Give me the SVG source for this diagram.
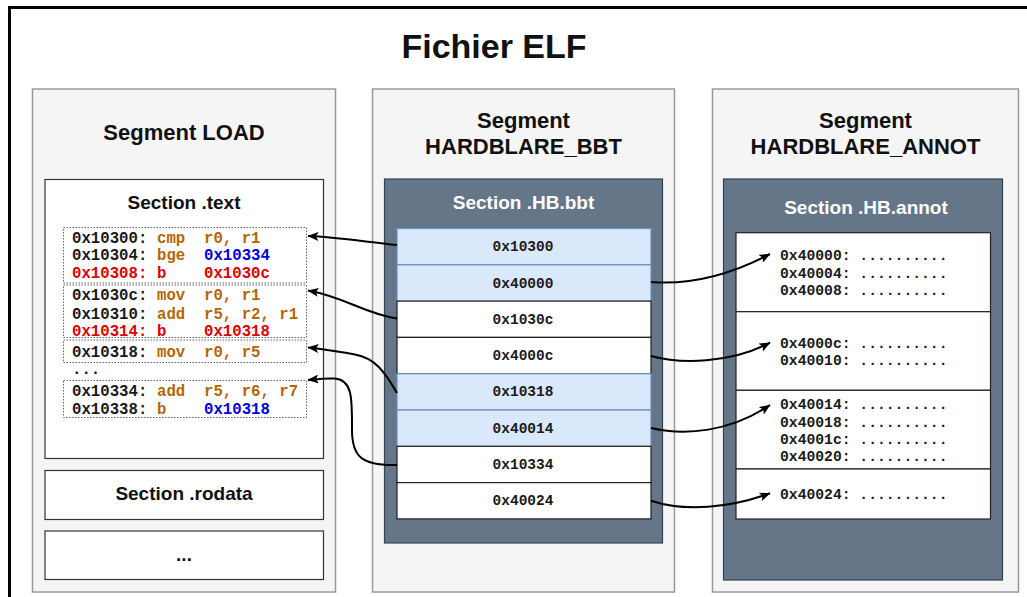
<svg xmlns="http://www.w3.org/2000/svg" width="1027" height="597" viewBox="0 0 1027 597">
<style>
.seg{fill:#f5f5f5;stroke:#9a9a9a;stroke-width:1.5}
.sec{fill:#ffffff;stroke:#333333;stroke-width:1.2}
.dark{fill:#647687;stroke:#314354;stroke-width:1.2}
.blue{fill:#dae8fc;stroke:#6c8ebf;stroke-width:1.2}
.wrow{fill:#ffffff;stroke:#222222;stroke-width:1.2}
.dot{fill:none;stroke:#666666;stroke-width:1;stroke-dasharray:1.5 1.5}
.t{font-family:"Liberation Sans",Arial,Helvetica,sans-serif;font-weight:bold;text-anchor:middle;fill:#111111}
.tw{font-family:"Liberation Sans",Arial,Helvetica,sans-serif;font-weight:bold;text-anchor:middle;fill:#ffffff;font-size:19px}
.m{font-family:"Liberation Mono","Courier New",monospace;font-weight:bold}
.code{font-size:15.7px;fill:#1a1a1a}
.br{fill:#b46504}
.rd{fill:#e00000}
.bl{fill:#0000e0}
.row{font-size:14.5px;fill:#1a1a1a;text-anchor:middle}
.an{font-size:14.7px;fill:#1a1a1a}
.c{fill:none;stroke:#000000;stroke-width:2;marker-end:url(#ah)}
</style>
<defs>
<marker id="ah" viewBox="0 0 11 9" refX="10.5" refY="4.5" markerWidth="11" markerHeight="9" markerUnits="userSpaceOnUse" orient="auto">
<path d="M0,0 L11,4.5 L0,9 L2.5,4.5 Z" fill="#000000"/>
</marker>
</defs>
<rect x="0" y="0" width="1027" height="597" fill="#ffffff"/>
<g id="elf">
<rect x="9.5" y="7.5" width="1030" height="600" fill="#ffffff" stroke="#000000" stroke-width="3"/>
<text class="t" x="494" y="58" font-size="34">Fichier ELF</text>
</g>
<g id="seg-load">
<rect class="seg" x="32.5" y="89" width="303" height="503"/>
<text class="t" x="184" y="140" font-size="22">Segment LOAD</text>
</g>
<g id="sec-text">
<rect class="sec" x="45" y="179.5" width="278.5" height="279"/>
<text class="t" x="184" y="209" font-size="19">Section .text</text>
<rect class="dot" x="63.5" y="227.5" width="243" height="55.5"/>
<rect class="dot" x="63.5" y="285" width="243" height="52.5"/>
<rect class="dot" x="63.5" y="340" width="243" height="22.5"/>
<rect class="dot" x="63.5" y="380.5" width="243" height="37"/>
<text class="m code" y="242.7"><tspan x="72">0x10300:</tspan><tspan class="br" x="157">cmp</tspan><tspan class="br" x="204">r0, r1</tspan></text>
<text class="m code" y="260.3"><tspan x="72">0x10304:</tspan><tspan class="br" x="157">bge</tspan><tspan class="bl" x="204">0x10334</tspan></text>
<text class="m code rd" y="277.8"><tspan x="72">0x10308:</tspan><tspan x="157">b</tspan><tspan x="204">0x1030c</tspan></text>
<text class="m code" y="300.2"><tspan x="72">0x1030c:</tspan><tspan class="br" x="157">mov</tspan><tspan class="br" x="204">r0, r1</tspan></text>
<text class="m code" y="318.5"><tspan x="72">0x10310:</tspan><tspan class="br" x="157">add</tspan><tspan class="br" x="204">r5, r2, r1</tspan></text>
<text class="m code rd" y="336"><tspan x="72">0x10314:</tspan><tspan x="157">b</tspan><tspan x="204">0x10318</tspan></text>
<text class="m code" y="356.7"><tspan x="72">0x10318:</tspan><tspan class="br" x="157">mov</tspan><tspan class="br" x="204">r0, r5</tspan></text>
<text class="m code" x="72" y="374.3">...</text>
<text class="m code" y="396"><tspan x="72">0x10334:</tspan><tspan class="br" x="157">add</tspan><tspan class="br" x="204">r5, r6, r7</tspan></text>
<text class="m code" y="413.5"><tspan x="72">0x10338:</tspan><tspan class="br" x="157">b</tspan><tspan class="bl" x="204">0x10318</tspan></text>
</g>
<g id="sec-rodata">
<rect class="sec" x="45" y="470.5" width="278.5" height="49"/>
<text class="t" x="184" y="500" font-size="19">Section .rodata</text>
</g>
<g id="sec-etc">
<rect class="sec" x="45" y="531" width="278.5" height="48.5"/>
<text class="t" x="184" y="561" font-size="19">...</text>
</g>
<g id="seg-bbt">
<rect class="seg" x="372.5" y="89" width="302" height="503"/>
<text class="t" x="523.5" y="128.3" font-size="22">Segment</text>
<text class="t" x="523.5" y="154" font-size="22">HARDBLARE_BBT</text>
</g>
<g id="sec-bbt">
<rect class="dark" x="384.5" y="179" width="278" height="364"/>
<text class="tw" x="523.5" y="209.3">Section .HB.bbt</text>
<rect class="blue" x="397" y="228.5" width="254" height="36.3"/>
<rect class="blue" x="397" y="264.8" width="254" height="36.3"/>
<rect class="wrow" x="397" y="301.1" width="254" height="36.3"/>
<rect class="wrow" x="397" y="337.4" width="254" height="36.3"/>
<rect class="blue" x="397" y="373.7" width="254" height="36.3"/>
<rect class="blue" x="397" y="410" width="254" height="36.3"/>
<rect class="wrow" x="397" y="446.3" width="254" height="36.3"/>
<rect class="wrow" x="397" y="482.6" width="254" height="36.3"/>
<text class="m row" x="523" y="251.2">0x10300</text>
<text class="m row" x="523" y="287.5">0x40000</text>
<text class="m row" x="523" y="323.8">0x1030c</text>
<text class="m row" x="523" y="360.1">0x4000c</text>
<text class="m row" x="523" y="396.4">0x10318</text>
<text class="m row" x="523" y="432.7">0x40014</text>
<text class="m row" x="523" y="469">0x10334</text>
<text class="m row" x="523" y="505.3">0x40024</text>
</g>
<g id="seg-annot">
<rect class="seg" x="712.5" y="89" width="306" height="503"/>
<text class="t" x="865.5" y="128.3" font-size="22">Segment</text>
<text class="t" x="865.5" y="154" font-size="22">HARDBLARE_ANNOT</text>
</g>
<g id="sec-annot">
<rect class="dark" x="723.5" y="179" width="279" height="401"/>
<text class="tw" x="866" y="214.3">Section .HB.annot</text>
<rect class="wrow" x="736" y="232.7" width="254.5" height="79"/>
<rect class="wrow" x="736" y="311.7" width="254.5" height="78.6"/>
<rect class="wrow" x="736" y="390.3" width="254.5" height="78.7"/>
<rect class="wrow" x="736" y="469" width="254.5" height="50"/>
<text class="m an" x="780" y="260">0x40000: ..........</text>
<text class="m an" x="780" y="277.5">0x40004: ..........</text>
<text class="m an" x="780" y="294.5">0x40008: ..........</text>
<text class="m an" x="780" y="348.3">0x4000c: ..........</text>
<text class="m an" x="780" y="365">0x40010: ..........</text>
<text class="m an" x="780" y="409.3">0x40014: ..........</text>
<text class="m an" x="780" y="426.7">0x40018: ..........</text>
<text class="m an" x="780" y="444">0x4001c: ..........</text>
<text class="m an" x="780" y="460.5">0x40020: ..........</text>
<text class="m an" x="780" y="499">0x40024: ..........</text>
</g>
<g id="connectors">
<path class="c" d="M397,245 C360,241 335,237 308,236"/>
<path class="c" d="M397,318.5 C365,314 345,297 308,290.5"/>
<path class="c" d="M397,393 C385,372 375,358 355,354.5 C340,352 325,349 308,347.5"/>
<path class="c" d="M397,465 C360,466 352,455 352,430 C352,400 353,380 335,378.5 C325,378 318,379 308,380"/>
<path class="c" d="M651,282 C690,285 730,275 770,254"/>
<path class="c" d="M651,356 C680,364 730,364 770,342.7"/>
<path class="c" d="M651,428 C685,436 730,432 770,405"/>
<path class="c" d="M651,500.7 C685,512 730,508 770,493.3"/>
</g>
</svg>
